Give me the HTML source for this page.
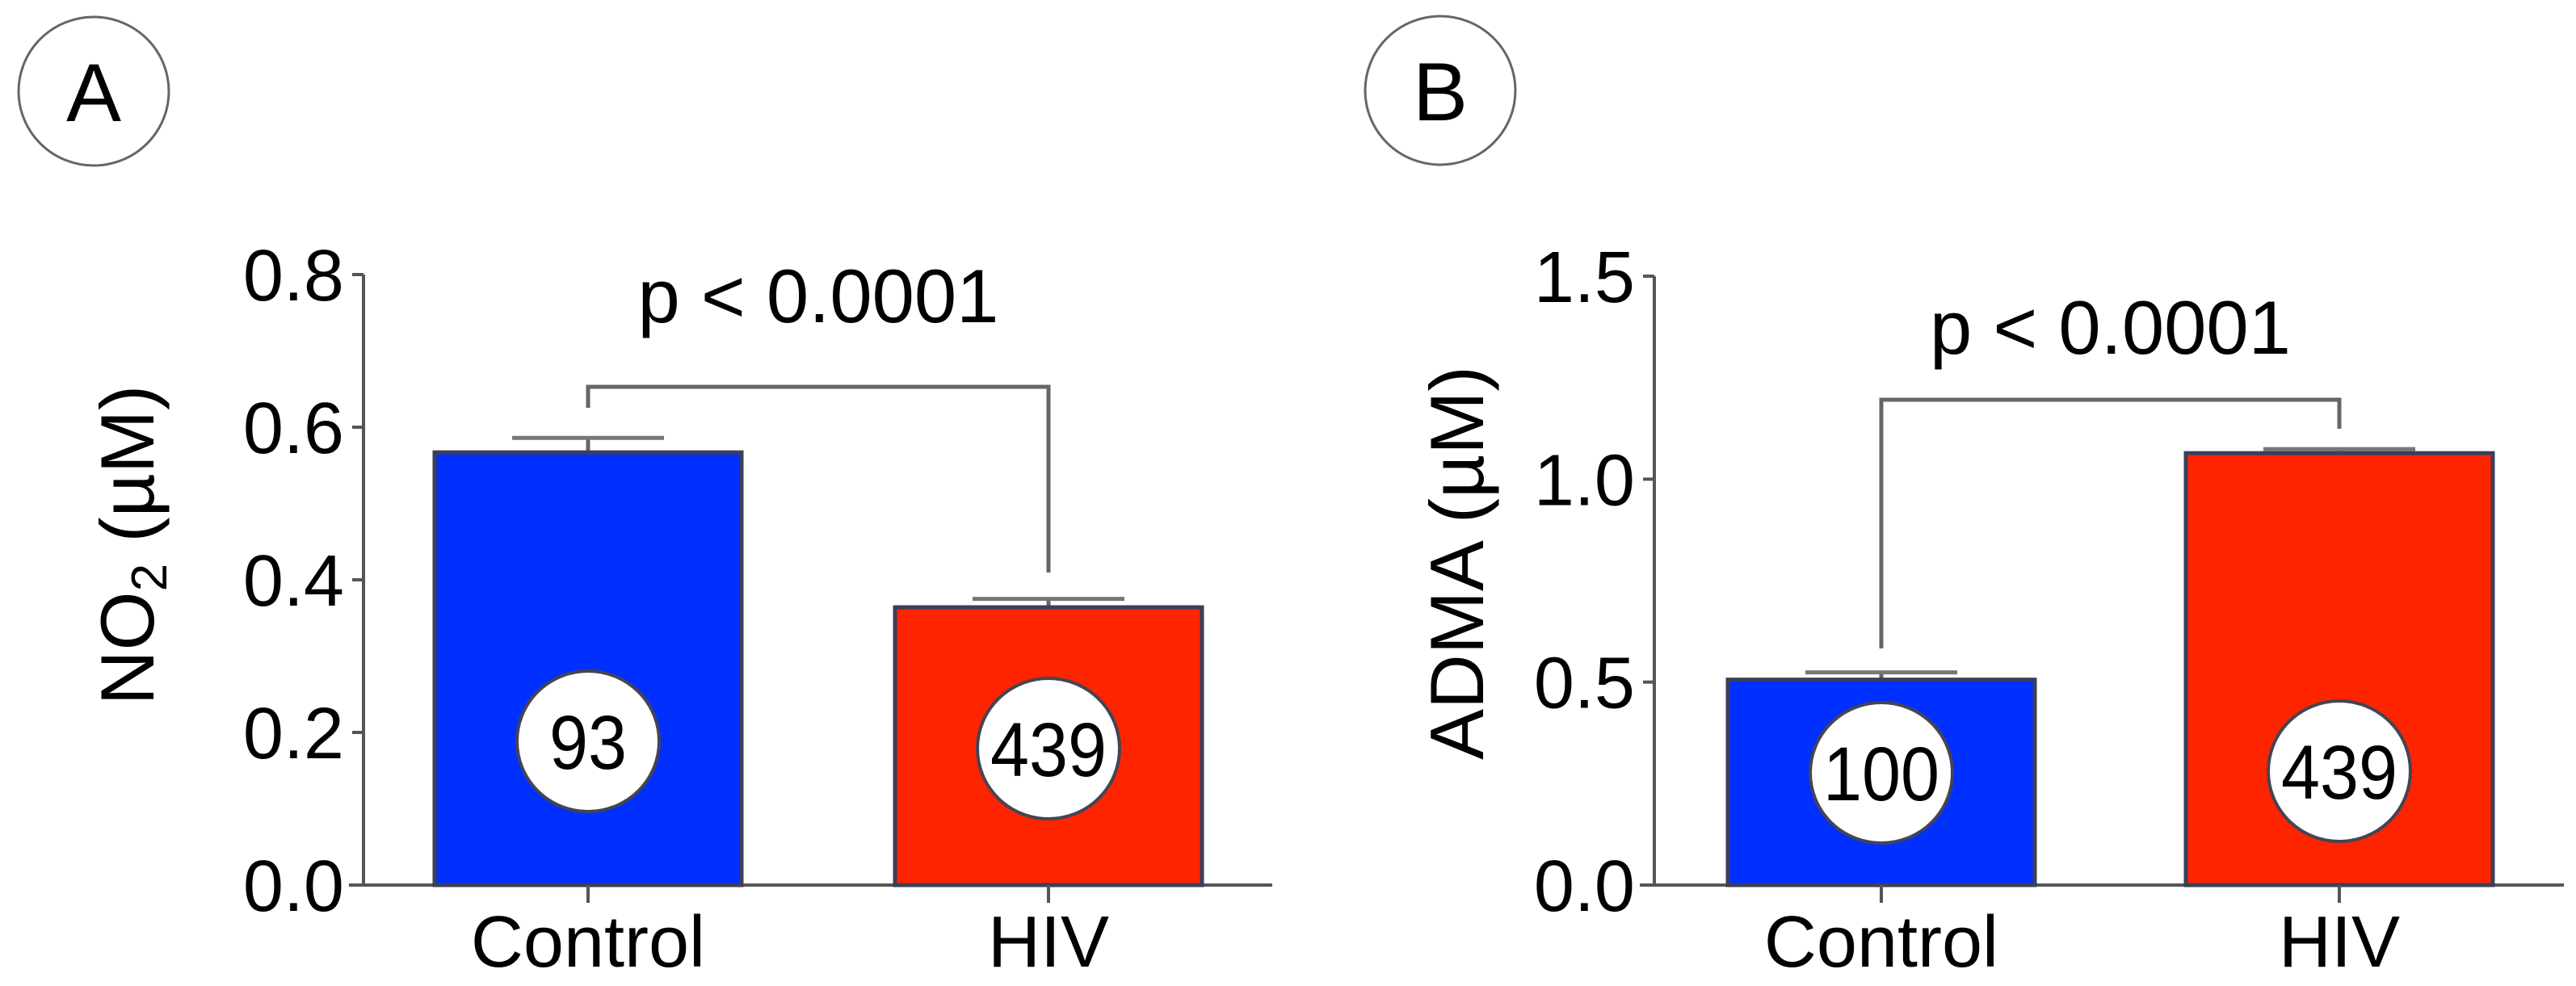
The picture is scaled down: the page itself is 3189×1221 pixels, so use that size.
<!DOCTYPE html>
<html><head><meta charset="utf-8"><style>
html,body{margin:0;padding:0;background:#fff;}
svg{display:block;font-family:"Liberation Sans",Arial,sans-serif;}
</style></head><body>
<svg id="fig" width="3189" height="1221" viewBox="0 0 3189 1221"></svg>
<script>
const categories = ["Control","HIV"];
const valuesA = [0.567, 0.364];
const errorsA = [0.019, 0.011];
const countsA = ["93","439"];
const ticksA = [0.0,0.2,0.4,0.6,0.8];
const tickLabelsA = ["0.0","0.2","0.4","0.6","0.8"];
const valuesB = [0.506, 1.064];
const errorsB = [0.018, 0.010];
const countsB = ["100","439"];
const ticksB = [0.0,0.5,1.0,1.5];
const tickLabelsB = ["0.0","0.5","1.0","1.5"];
const colors = ["#0030ff","#ff2400"];

const NS="http://www.w3.org/2000/svg";
const svg=document.getElementById('fig');
function mk(tag,attrs,parent){const e=document.createElementNS(NS,tag);for(const k in attrs)e.setAttribute(k,attrs[k]);(parent||svg).appendChild(e);return e;}

function panel(cfg){
  const g=mk('g',{});
  
  
  const y=v=>cfg.y0-(v/cfg.max)*(cfg.y0-cfg.yTop);
  const badge=mk('ellipse',{cx:cfg.bx,cy:cfg.by,rx:93,ry:92,fill:'none',stroke:'#666','stroke-width':3},g);
  
  
  const lt=mk('text',{x:cfg.bx,y:cfg.by+37,'font-size':102,'text-anchor':'middle',fill:'#000'},g);
  lt.textContent=cfg.letter;
  
  
  const ya=mk('line',{x1:cfg.ax,y1:cfg.yTop,x2:cfg.ax,y2:cfg.y0+2,stroke:'#555','stroke-width':4},g);
  
  
  const xa=mk('line',{x1:cfg.ax-18,y1:cfg.y0,x2:cfg.xEnd,y2:cfg.y0,stroke:'#555','stroke-width':4},g);
  
  
  cfg.ticks.forEach((t,i)=>{
    const tl=mk('line',{x1:cfg.ax-14,y1:y(t),x2:cfg.ax,y2:y(t),stroke:'#555','stroke-width':4},g);
    
    
    const tx=mk('text',{x:cfg.ax-24,y:y(t)+32,'font-size':90,'text-anchor':'end',fill:'#000'},g);
    tx.textContent=cfg.tickLabels[i];
    
    
  });
  const yt=mk('text',{x:0,y:0,'font-size':94,'text-anchor':'middle',fill:'#000',transform:`translate(${cfg.tx},${cfg.ty}) rotate(-90)`},g);
  yt.innerHTML=cfg.titleHTML;
  
  
  const centers=[];
  categories.forEach((c,i)=>{
    const xl=cfg.barX[i], w=380, cx=xl+w/2; centers.push(cx);
    const v=cfg.values[i], e=cfg.errors[i];
    const el=mk('line',{x1:cx,y1:y(v),x2:cx,y2:y(v+e),stroke:'#666','stroke-width':5},g);
    
    
    const ec=mk('line',{x1:cx-94,y1:y(v+e),x2:cx+94,y2:y(v+e),stroke:'#777','stroke-width':5},g);
    
    
    const r=mk('rect',{x:xl,y:y(v),width:w,height:cfg.y0-y(v),fill:colors[i],stroke:'#3a3f5a','stroke-width':5},g);
    
    
    const tk=mk('line',{x1:cx,y1:cfg.y0,x2:cx,y2:cfg.y0+22,stroke:'#555','stroke-width':4},g);
    
    
    const cl=mk('text',{x:cx,y:1197,'font-size':90,'text-anchor':'middle',fill:'#000'},g);
    cl.textContent=c;
    
    
    const nc=mk('ellipse',{cx:cx,cy:cfg.ny[i],rx:88,ry:87,fill:'#fff',stroke:'#445','stroke-width':4},g);
    
    
    const nt=mk('text',{x:cx,y:cfg.ny[i]+34,'font-size':95,'text-anchor':'middle',fill:'#000',textLength:cfg.counts[i].length*48,lengthAdjust:'spacingAndGlyphs'},g);
    nt.textContent=cfg.counts[i];
    
    
  });
  const br=mk('polyline',{points:`${centers[0]},${cfg.bl} ${centers[0]},${cfg.bt} ${centers[1]},${cfg.bt} ${centers[1]},${cfg.br}`,fill:'none',stroke:'#666','stroke-width':5},g);
  
  
  const pt=mk('text',{x:(centers[0]+centers[1])/2,y:cfg.pY,'font-size':94,'text-anchor':'middle',fill:'#000'},g);
  pt.textContent='p < 0.0001';
  
  
}

panel({name:'panel-a',letter:'A',bx:116,by:113,ax:450,yTop:340,y0:1096,max:0.8,xEnd:1575,
  ticks:ticksA,tickLabels:tickLabelsA,values:valuesA,errors:errorsA,counts:countsA,
  barX:[538,1108],ny:[918,927],tx:190,ty:675,
  titleHTML:'NO<tspan font-size="62" dy="16">2</tspan><tspan dy="-16"> (µM)</tspan>',
  bt:479,bl:505,br:709,pY:399});
panel({name:'panel-b',letter:'B',bx:1783,by:112,ax:2048,yTop:342,y0:1096,max:1.5,xEnd:3174,
  ticks:ticksB,tickLabels:tickLabelsB,values:valuesB,errors:errorsB,counts:countsB,
  barX:[2139,2706],ny:[957,955],tx:1836,ty:697,
  titleHTML:'ADMA (µM)',
  bt:495,bl:803,br:531,pY:438});
</script>
</body></html>
